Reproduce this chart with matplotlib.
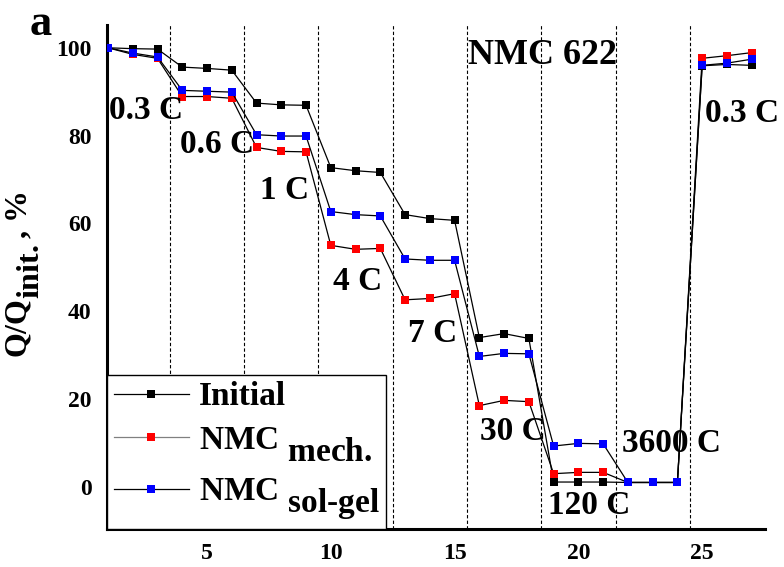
import numpy as np
import matplotlib
matplotlib.use("Agg")
import matplotlib.pyplot as plt
import matplotlib._mathtext as mathtext

# subscripts in the original are full size and dropped well below the baseline
mathtext.SHRINK_FACTOR = 1.0
mathtext.FontConstantsBase.sub1 = 0.8

plt.rcParams['font.family'] = ['Liberation Serif', 'DejaVu Serif']
plt.rcParams['font.weight'] = 'bold'
plt.rcParams['mathtext.fontset'] = 'custom'
plt.rcParams['mathtext.rm'] = 'Liberation Serif:bold'
plt.rcParams['mathtext.bf'] = 'Liberation Serif:bold'
plt.rcParams['mathtext.it'] = 'Liberation Serif:bold:italic'

# cycle number
cycle = np.arange(1, 28)

# Q/Qinit, %
initial = [100, 99.8, 99.7, 95.6, 95.3, 94.9, 87.4, 87.0, 86.9,
           72.7, 72.0, 71.6, 62.0, 61.1, 60.7, 34.0, 34.9, 33.8,
           1.1, 1.1, 1.1, 1.0, 1.0, 1.0, 95.9, 96.2, 96.0]
nmc_mech = [100, 98.5, 97.6, 88.9, 88.9, 88.5, 77.3, 76.4, 76.3,
            55.0, 54.1, 54.3, 42.6, 42.9, 44.0, 18.5, 19.7, 19.4,
            3.0, 3.3, 3.3, 1.0, 1.0, 1.0, 97.6, 98.2, 98.9]
nmc_solgel = [100, 98.8, 97.9, 90.3, 90.1, 89.9, 80.2, 79.9, 79.9,
              62.7, 62.0, 61.7, 51.9, 51.6, 51.6, 29.7, 30.4, 30.3,
              9.3, 9.9, 9.8, 1.0, 1.0, 1.0, 96.0, 96.5, 97.4]

# boundaries between C-rate steps
steps = [3.5, 6.5, 9.5, 12.5, 15.5, 18.5, 21.5, 24.5]

# C-rate labels (text, x, baseline y)
rate_labels = ["0.3 C", "0.6 C", "1 C", "4 C", "7 C", "30 C", "120 C", "3600 C", "0.3 C"]
rate_x = [1.02, 3.92, 7.14, 10.09, 13.12, 16.02, 18.77, 21.76, 25.11]
rate_y = [83.8, 76.1, 65.6, 44.8, 33.0, 10.6, -6.1, 7.9, 83.2]

fig = plt.figure(figsize=(7.84, 5.67), dpi=100)
ax = fig.add_axes([0.1365, 0.067, 0.839, 0.889])

for s in steps:
    ax.axvline(s, color='black', lw=0.8, ls=(0, (3, 2)), zorder=1)

l1, = ax.plot(cycle, initial, '-s', color='black', lw=0.9, ms=6,
              mfc='black', mec='black', mew=0, zorder=3, label="Initial")
l2, = ax.plot(cycle, nmc_mech, '-s', color='black', lw=0.9, ms=6,
              mfc='#ff0000', mec='#ff0000', mew=0, zorder=4,
              label=r"NMC $_\mathrm{mech.}$")
l3, = ax.plot(cycle, nmc_solgel, '-s', color='black', lw=0.9, ms=6,
              mfc='#0000ff', mec='#0000ff', mew=0, zorder=5,
              label=r"NMC $_\mathrm{sol\text{-}gel}$")

for txt, x, y in zip(rate_labels, rate_x, rate_y):
    ax.text(x, y, txt, fontsize=24, fontweight='bold', ha='left', va='baseline', zorder=6)
ax.text(15.54, 96.2, "NMC 622", fontsize=26, fontweight='bold', ha='left', va='baseline', zorder=6)

ax.set_xlim(0.96, 27.53)
ax.set_ylim(-9.6, 105.2)
ax.set_xticks([5, 10, 15, 20, 25])
ax.set_yticks([0, 20, 40, 60, 80, 100])
ax.tick_params(length=0, labelsize=17)
ax.tick_params(axis='y', pad=11)
ax.tick_params(axis='x', pad=10)

for side in ['top', 'right']:
    ax.spines[side].set_visible(False)
for side in ['left', 'bottom']:
    ax.spines[side].set_linewidth(2.2)

ax.set_ylabel(r"Q/Q$_\mathrm{init.}$, %", fontsize=23, fontweight='bold')
ax.yaxis.set_label_coords(-0.1, 0.503)

leg = ax.legend(handles=[l1, l2, l3], loc='lower left', bbox_to_anchor=(0, 0),
                borderaxespad=0, fontsize=24, handlelength=2.25, handletextpad=0.3,
                borderpad=0.2, labelspacing=0.38, fancybox=False, framealpha=1,
                edgecolor='black')
leg.get_frame().set_linewidth(1.0)
leg.set_zorder(7)
leg.get_lines()[1].set_color('gray')

fig.text(0.038, 0.938, "a", fontsize=32, fontweight='bold', ha='left', va='baseline')

fig.savefig("out.png", dpi=100)
